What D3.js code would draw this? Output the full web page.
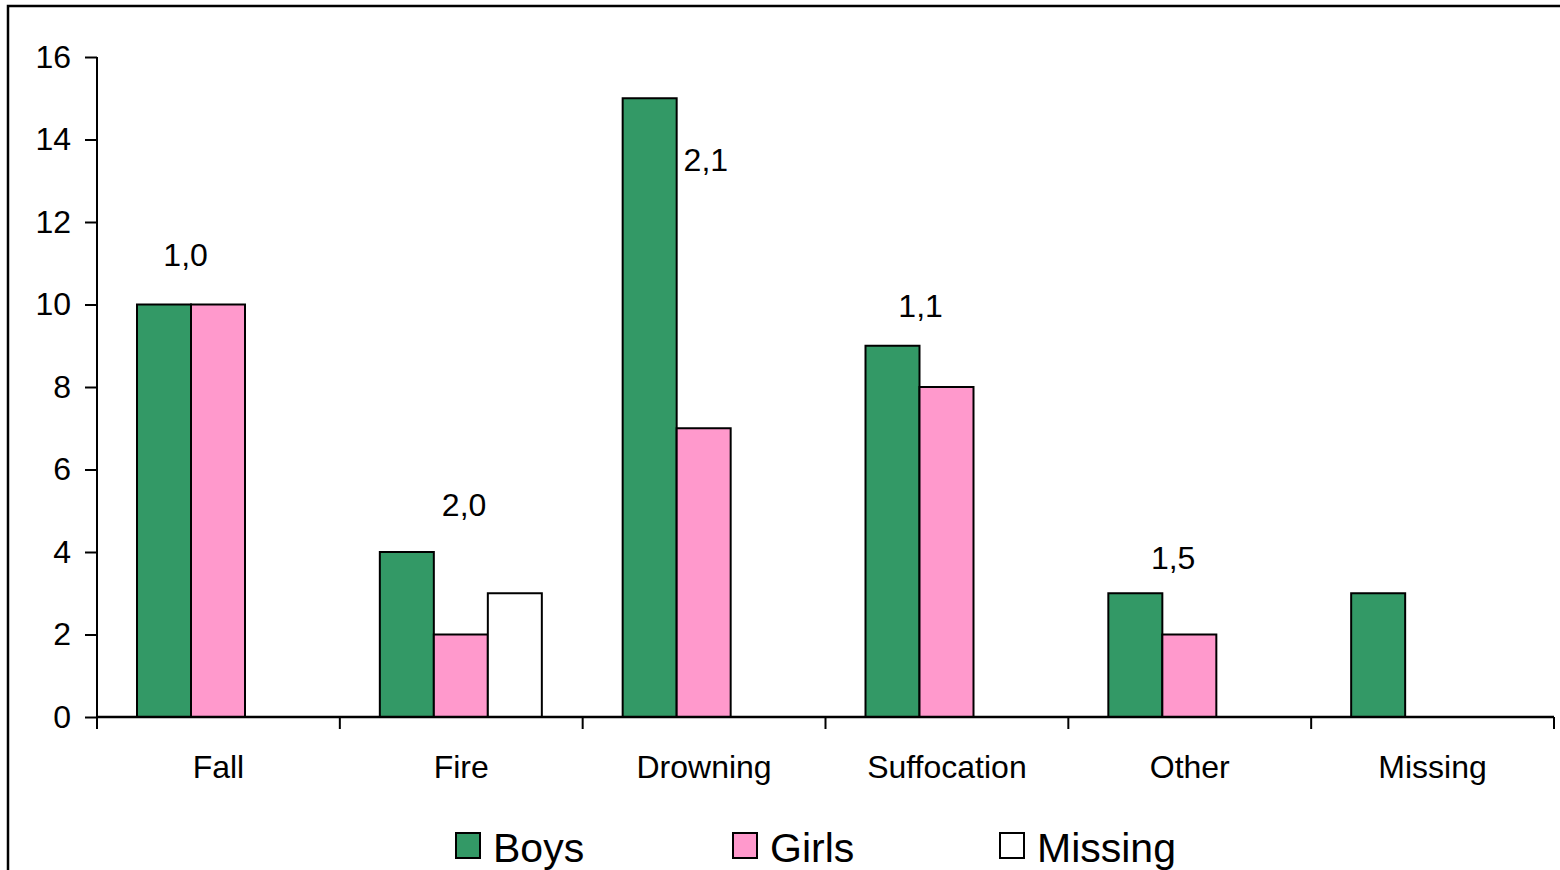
<!DOCTYPE html>
<html><head><meta charset="utf-8">
<script src="https://cdn.jsdelivr.net/npm/d3@7"></script>
<style>body{margin:0;background:#fff}svg{display:block;font-family:"Liberation Sans",Arial,sans-serif}</style>
</head><body>
<svg id="c" width="1560" height="870"></svg>
<script>
const categories = ["Fall","Fire","Drowning","Suffocation","Other","Missing"];
const seriesNames = ["Boys","Girls","Missing"];
const boys    = [10, 4, 15, 9, 3, 3];
const girls   = [10, 2, 7, 8, 2, 0];
const missing = [0, 3, 0, 0, 0, 0];
const yTicks = [0,2,4,6,8,10,12,14,16];
const ratioLabels = ["1,0","2,0","2,1","1,1","1,5",""];
const ratioLabelY = [11.2, 5.14, 13.5, 9.96, 3.85, null];
const ratioLabelBar = [0.9, 1.56, 1.54, 1.02, 1.2, null];
const colors = ["#339966","#FF99CC","#FFFFFF"];

const svg = d3.select("#c");
// frame
svg.append("rect").attr("x",8).attr("y",6).attr("width",1600).attr("height",900)
  .attr("fill","none").attr("stroke","#000").attr("stroke-width",2.5);

const x0 = d3.scaleBand().domain(categories).range([97,1554]).padding(0);
const barW = 54;
const x1 = d3.scaleBand().domain(seriesNames).range([40, 40+3*barW]).padding(0);
const y = d3.scaleLinear().domain([0,16]).range([717,57]);

const values = [boys, girls, missing];
const bars = [];
categories.forEach((c,i)=>{
  seriesNames.forEach((s,j)=>{
    const v = values[j][i];
    if (v>0) bars.push({c,s,v,j});
  });
});
svg.append("g").selectAll("rect").data(bars).join("rect")
  .attr("x",d=>x0(d.c)+x1(d.s))
  .attr("y",d=>y(d.v))
  .attr("width",x1.bandwidth())
  .attr("height",d=>y(0)-y(d.v))
  .attr("fill",d=>colors[d.j])
  .attr("stroke","#000").attr("stroke-width",2);

// y axis
const ya = svg.append("g").attr("transform","translate(97,0)")
  .call(d3.axisLeft(y).tickValues(yTicks).tickSize(12).tickPadding(14).tickFormat(d3.format("d")));
ya.select(".domain").attr("stroke-width",2).attr("d","M0,57V717");
ya.selectAll(".tick line").attr("stroke-width",2);
ya.selectAll("text").attr("font-size",32).attr("fill","#000").attr("font-family","Liberation Sans, Arial, sans-serif");

// x axis
const xa = svg.append("g").attr("transform","translate(0,717)");
xa.append("line").attr("x1",97).attr("x2",1554).attr("stroke","#000").attr("stroke-width",2.5);
const bounds = categories.map(c=>x0(c)).concat([x0.range()[1]]);
xa.selectAll(".tk").data(bounds).join("line").attr("class","tk")
  .attr("x1",d=>d).attr("x2",d=>d).attr("y1",0).attr("y2",12)
  .attr("stroke","#000").attr("stroke-width",2);
xa.selectAll(".cl").data(categories).join("text").attr("class","cl")
  .attr("x",d=>x0(d)+x0.bandwidth()/2).attr("y",61)
  .attr("text-anchor","middle").attr("font-size",32).text(d=>d);

// ratio labels
svg.append("g").selectAll("text").data(categories.map((c,i)=>({c,i})).filter(d=>ratioLabels[d.i]))
  .join("text")
  .attr("x",d=>x0(d.c)+40+ratioLabelBar[d.i]*barW)
  .attr("y",d=>y(ratioLabelY[d.i]))
  .attr("dominant-baseline","central")
  .attr("text-anchor","middle").attr("font-size",32).text(d=>ratioLabels[d.i]);

// legend
const legX = [456, 733, 1000];
const lg = svg.append("g").selectAll("g").data(seriesNames).join("g")
  .attr("transform",(d,i)=>`translate(${legX[i]},833)`);
lg.append("rect").attr("width",24).attr("height",25).attr("fill",(d,i)=>colors[i])
  .attr("stroke","#000").attr("stroke-width",2);
lg.append("text").attr("x",37).attr("y",29).attr("font-size",41).text(d=>d);
</script>
</body></html>
